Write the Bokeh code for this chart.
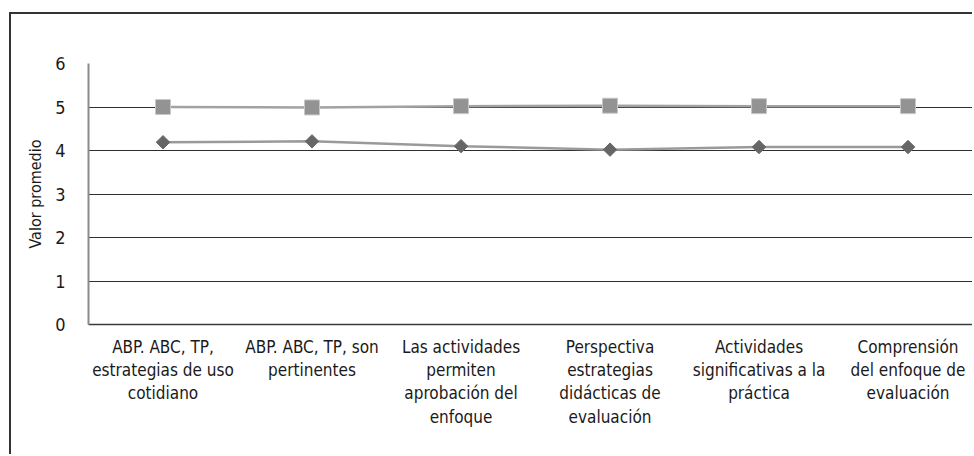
import numpy as np
from bokeh.plotting import figure
from bokeh.models import Range1d, FixedTicker, Grid
from bokeh.embed import file_html
from bokeh.resources import INLINE

categories = [
    "ABP. ABC, TP,\nestrategias de uso\ncotidiano",
    "ABP. ABC, TP, son\npertinentes",
    "Las actividades\npermiten\naprobación del\nenfoque",
    "Perspectiva\nestrategias\ndidácticas de\nevaluación",
    "Actividades\nsignificativas a la\npráctica",
    "Comprensión\ndel enfoque de\nevaluación",
]
serie_cuadros = [5.00, 4.99, 5.02, 5.03, 5.02, 5.02]
serie_rombos = [4.19, 4.21, 4.10, 4.02, 4.08, 4.08]
y_ticks = [0, 1, 2, 3, 4, 5, 6]

FONT = "DejaVu Sans Condensed, Liberation Sans Narrow, sans-serif"

xpos = [i + 0.5 for i in range(len(categories))]

p = figure(
    width=963, height=442,
    output_backend="svg", toolbar_location=None,
    x_range=Range1d(0, 5.946), y_range=Range1d(0, 6),
    min_border_left=77, min_border_top=49, min_border_bottom=132, min_border_right=0,
)
p.styles = {"border-left": "2px solid #333333", "border-top": "2px solid #333333"}
p.margin = (12, 0, 0, 9)
p.outline_line_color = None
p.background_fill_color = "white"
p.border_fill_color = "white"

# grids
p.xgrid.visible = False
p.ygrid.ticker = FixedTicker(ticks=y_ticks[:-1])
p.ygrid.grid_line_color = "#2e2e2e"
p.ygrid.grid_line_width = 1
top_grid = Grid(dimension=1, ticker=FixedTicker(ticks=[y_ticks[-1]]),
                grid_line_color="#8a8a8a", grid_line_width=2)
p.add_layout(top_grid)

# x axis
p.xaxis.ticker = FixedTicker(ticks=xpos)
p.xaxis.major_label_overrides = {x: c for x, c in zip(xpos, categories)}
p.xaxis.major_tick_line_color = None
p.xaxis.minor_tick_line_color = None
p.xaxis.axis_line_color = "#3a3a3a"
p.xaxis.axis_line_width = 1.5
p.xaxis.major_label_text_font = FONT
p.xaxis.major_label_text_font_size = "17px"
p.xaxis.major_label_text_color = "#1a1a1a"
p.xaxis.major_label_text_line_height = 1.17
p.xaxis.major_label_standoff = 6

# y axis
p.yaxis.ticker = FixedTicker(ticks=y_ticks)
p.yaxis.major_tick_line_color = None
p.yaxis.minor_tick_line_color = None
p.yaxis.axis_line_color = "#8a8a8a"
p.yaxis.axis_line_width = 2
p.yaxis.major_label_text_font = FONT
p.yaxis.major_label_text_font_size = "18px"
p.yaxis.major_label_text_color = "#1a1a1a"
p.yaxis.major_label_standoff = 17
p.yaxis.axis_label = "Valor promedio"
p.yaxis.axis_label_text_font = FONT
p.yaxis.axis_label_text_font_size = "16px"
p.yaxis.axis_label_text_font_style = "normal"
p.yaxis.axis_label_text_color = "#1a1a1a"
p.yaxis.axis_label_standoff = 7

# series
p.line(xpos, serie_cuadros, line_color="#a2a2a2", line_width=2.5)
p.scatter(xpos, serie_cuadros, marker="square", size=15,
          fill_color="#939393", line_color="#c8c8c8", line_width=1)
p.line(xpos, serie_rombos, line_color="#9a9a9a", line_width=2.5)
p.scatter(xpos, serie_rombos, marker="square", size=9.5, angle=np.pi / 4,
          fill_color="#666666", line_color="#666666", line_width=1)

open("out.html", "w").write(file_html(p, INLINE))
